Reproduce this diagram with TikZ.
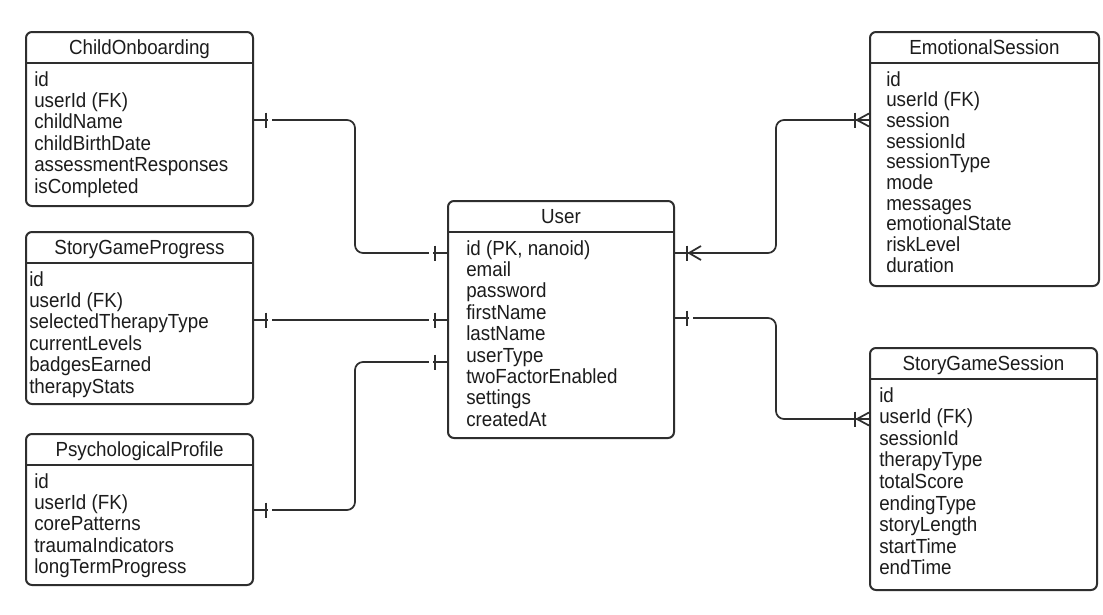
\documentclass[tikz,border=0pt]{standalone}
\usepackage{fontspec}
\setmainfont{Liberation Sans}[FakeStretch=0.92]
\usetikzlibrary{calc}
\definecolor{ink}{HTML}{2E2E2E}
\definecolor{txt}{HTML}{1C1C1C}

% entity box: name, x, y, width, height, title, text inset, row pitch, fields
\newcommand\entity[9]{%
  \node[ebox, minimum width=#4*0.75pt, minimum height=#5*0.75pt, anchor=north west] (#1) at (#2,#3) {};
  \node[etext, anchor=base] (#1-t) at ($(#1.north)+(0,23)$) {#6};
  \draw[hdr] ($(#1.north west)+(0,32)$) -- ($(#1.north east)+(0,32)$);
  \foreach \s [count=\i] in {#9}
    \node[etext, anchor=base west] (#1-\i) at ($(#1.north west)+(#7,{55+(\i-1)*#8})$) {\s};
}
% "one" mark: bar with a small gap on its outer side (#2 = +1 right, -1 left)
\newcommand\onebar[2]{%
  \draw[gapline] ($(#1)+(#2*14,0)$) -- ($(#1)+(#2*18,0)$);
  \draw[barline] ($(#1)+(#2*12,-7.5)$) -- ($(#1)+(#2*12,7.5)$);
}
% "many" mark with toes touching the entity on its left side
\newcommand\manyin[1]{%
  \draw[barline] ($(#1)+(-14,-7.5)$) -- ($(#1)+(-14,7.5)$);
  \draw[foot] ($(#1)+(0,-6.5)$) -- ($(#1)+(-12,0)$) -- ($(#1)+(0,6.5)$);
}
% "many" mark opening away from the entity on its right side
\newcommand\manyout[1]{%
  \draw[barline] ($(#1)+(12,-7.5)$) -- ($(#1)+(12,7.5)$);
  \draw[foot] ($(#1)+(26,-7)$) -- ($(#1)+(14,0)$) -- ($(#1)+(26,7)$);
}

\begin{document}
\begin{tikzpicture}[x=0.75pt,y=-0.75pt,
  ebox/.style={draw=ink, line width=1.5pt, rounded corners=4.5pt, fill=white, inner sep=0pt},
  etext/.style={text=txt, font=\fontsize{15.3}{16}\selectfont, inner sep=0pt},
  hdr/.style={draw=ink, line width=1.2pt},
  conn/.style={draw=ink, line width=1.3pt, rounded corners=6pt},
  barline/.style={draw=ink, line width=2pt},
  gapline/.style={draw=white, line width=3pt},
  foot/.style={draw=ink, line width=1.3pt}]

\useasboundingbox[fill=white] (0,0) rectangle (1103,614);

% entities
\entity{co}{25}{31}{227}{174}{ChildOnboarding}{9}{21.4}%
  {id, userId (FK), childName, childBirthDate, assessmentResponses, isCompleted}
\entity{sgp}{25}{231}{227}{172}{StoryGameProgress}{4}{21.4}%
  {id, userId (FK), selectedTherapyType, currentLevels, badgesEarned, therapyStats}
\entity{pp}{25}{433}{227}{151}{PsychologicalProfile}{9}{21.4}%
  {id, userId (FK), corePatterns, traumaIndicators, longTermProgress}
\entity{user}{447}{200}{226}{237}{User}{19}{21.4}%
  {{id (PK, nanoid)}, email, password, firstName, lastName, userType, twoFactorEnabled, settings, createdAt}
\entity{es}{869}{31}{229}{254}{EmotionalSession}{17}{20.7}%
  {id, userId (FK), session, sessionId, sessionType, mode, messages, emotionalState, riskLevel, duration}
\entity{sgs}{869}{347}{227}{242}{StoryGameSession}{10}{21.6}%
  {id, userId (FK), sessionId, therapyType, totalScore, endingType, storyLength, startTime, endTime}

% connector end points
\coordinate (uL1) at ($(user.north west)+(0,53)$);
\coordinate (uL2) at ($(user.north west)+(0,120)$);
\coordinate (uL3) at ($(user.north west)+(0,162)$);
\coordinate (uR1) at ($(user.north east)+(0,53)$);
\coordinate (uR2) at ($(user.north east)+(0,118)$);
\coordinate (coR) at ($(co.north east)+(0,89)$);
\coordinate (sgpR) at ($(sgp.north east)+(0,89)$);
\coordinate (ppR) at ($(pp.north east)+(0,77)$);
\coordinate (esL) at ($(es.north west)+(0,89)$);
\coordinate (sgsL) at ($(sgs.north west)+(0,72)$);
\coordinate (lbus) at (355,0);
\coordinate (rbus) at (776,0);

% relationships
\draw[conn] (coR) -| (lbus |- uL1) -- (uL1);
\draw[conn] (sgpR) -- (uL2);
\draw[conn] (ppR) -| (lbus |- uL3) -- (uL3);
\draw[conn] (uR1) -| (rbus |- esL) -- (esL);
\draw[conn] (uR2) -| (rbus |- sgsL) -- (sgsL);

% cardinality marks
\onebar{coR}{1}
\onebar{sgpR}{1}
\onebar{ppR}{1}
\onebar{uL1}{-1}
\onebar{uL2}{-1}
\onebar{uL3}{-1}
\onebar{uR2}{1}
\manyout{uR1}
\manyin{esL}
\manyin{sgsL}
\end{tikzpicture}
\end{document}
